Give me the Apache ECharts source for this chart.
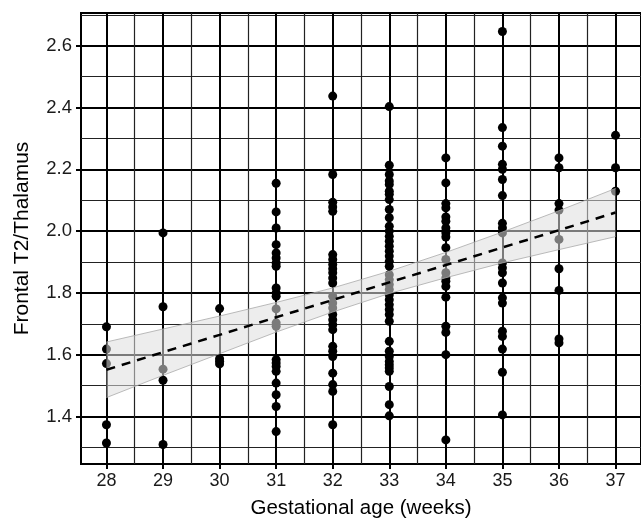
<!DOCTYPE html>
<html>
<head>
<meta charset="utf-8" />
<title>Frontal T2/Thalamus</title>
<script src="https://cdn.jsdelivr.net/npm/echarts@6/dist/echarts.min.js"></script>
<style>
	html, body { margin: 0; padding: 0; background: #fff; }
	#chart { width: 641px; height: 524px; }
</style>
</head>
<body>
<div id="chart"></div>
<script type="text/javascript">

	/******************* data ******************/
	var weeks = [28, 29, 30, 31, 32, 33, 34, 35, 36, 37];

	// ratio values per gestational week
	var w28 = [1.690, 1.618, 1.571, 1.373, 1.314];
	var w29 = [1.994, 1.755, 1.553, 1.517, 1.309];
	var w30 = [1.749, 1.587, 1.579, 1.570];
	var w31 = [2.155, 2.062, 2.010, 1.956, 1.929, 1.913, 1.897, 1.886, 1.816, 1.800, 1.789,
		1.748, 1.703, 1.692, 1.584, 1.573, 1.562, 1.546, 1.508, 1.470, 1.432, 1.351];
	var w32 = [2.437, 2.183, 2.093, 2.078, 2.064, 1.924, 1.908, 1.892, 1.878, 1.865, 1.848, 1.832,
		1.789, 1.767, 1.751, 1.730, 1.713, 1.697, 1.681, 1.627, 1.611, 1.594, 1.540, 1.503, 1.481, 1.373];
	var w33 = [2.403, 2.213, 2.183, 2.162, 2.151, 2.129, 2.119, 2.102, 2.070, 2.043, 2.016, 2.000,
		1.983, 1.967, 1.951, 1.935, 1.919, 1.902, 1.886, 1.859, 1.843, 1.827, 1.811, 1.794, 1.778,
		1.762, 1.746, 1.730, 1.708, 1.643, 1.611, 1.594, 1.578, 1.567, 1.557, 1.546, 1.497, 1.438, 1.402];
	var w34 = [2.237, 2.156, 2.089, 2.075, 2.046, 2.032, 2.010, 1.994, 1.981, 1.946, 1.908, 1.865,
		1.848, 1.838, 1.821, 1.786, 1.692, 1.672, 1.600, 1.324];
	var w35 = [2.646, 2.335, 2.275, 2.216, 2.200, 2.167, 2.115, 2.025, 2.010, 1.994, 1.897, 1.881,
		1.865, 1.832, 1.784, 1.767, 1.676, 1.659, 1.618, 1.543, 1.405];
	var w36 = [2.237, 2.205, 2.089, 2.068, 1.973, 1.878, 1.808, 1.651, 1.638];
	var w37 = [2.310, 2.205, 2.129];
	var weekValues = [w28, w29, w30, w31, w32, w33, w34, w35, w36, w37];

	// fitted line and confidence band, read at each week
	var fitLine = [1.551, 1.608, 1.664, 1.721, 1.777, 1.834, 1.890, 1.947, 2.003, 2.060];
	var ciLower = [1.461, 1.533, 1.603, 1.673, 1.738, 1.798, 1.849, 1.897, 1.940, 1.982];
	var ciUpper = [1.641, 1.683, 1.725, 1.769, 1.816, 1.870, 1.931, 1.997, 2.066, 2.138];

	// tick / grid positions
	var xMajor = [28, 29, 30, 31, 32, 33, 34, 35, 36, 37];
	var xMinor = [28.5, 29.5, 30.5, 31.5, 32.5, 33.5, 34.5, 35.5, 36.5];
	var yMajor = [1.4, 1.6, 1.8, 2.0, 2.2, 2.4, 2.6];
	var yMinor = [1.3, 1.5, 1.7, 1.9, 2.1, 2.3, 2.5, 2.7];

	/******************* build ******************/
	var points = [];
	for (let i = 0; i < weeks.length; ++i) {
		for (let j = 0; j < weekValues[i].length; ++j) {
			points.push([weeks[i], weekValues[i][j]]);
		}
	}
	var fitData = weeks.map(function (w, i) { return [w, fitLine[i]]; });
	var lowerData = weeks.map(function (w, i) { return [w, ciLower[i]]; });
	var upperData = weeks.map(function (w, i) { return [w, ciUpper[i]]; });

	var font = "'Liberation Sans', Arial, sans-serif";
	var X_MIN = 27.55, X_MAX = 37.45, Y_MIN = 1.246, Y_MAX = 2.706;

	var dom = document.getElementById('chart');
	var myChart = echarts.init(dom, null, { renderer: 'canvas' });

	var option = {
		animation: false,
		grid: {
			left: 81, top: 13, right: -3, bottom: 60,
			show: true, borderColor: '#000', borderWidth: 2, backgroundColor: 'transparent'
		},
		xAxis: [
			{
				type: 'value', min: X_MIN, max: X_MAX,
				name: 'Gestational age (weeks)', nameLocation: 'middle', nameGap: 34,
				nameTextStyle: { fontFamily: font, fontSize: 20.5, color: '#000' },
				axisLine: { show: false },
				axisTick: { show: true, length: 5, customValues: xMajor, lineStyle: { color: '#000', width: 2 } },
				axisLabel: {
					customValues: xMajor, margin: 8, fontFamily: font, fontSize: 18, color: '#1a1a1a',
					formatter: function (v) { return String(v); }
				},
				splitLine: { show: true, lineStyle: { color: '#000', width: 2 } }
			},
			{
				type: 'value', min: X_MIN, max: X_MAX, position: 'bottom',
				axisLine: { show: false },
				axisTick: { show: false, customValues: xMinor },
				axisLabel: { show: false, customValues: xMinor },
				splitLine: { show: true, lineStyle: { color: '#222', width: 1.2 } }
			}
		],
		yAxis: [
			{
				type: 'value', min: Y_MIN, max: Y_MAX,
				name: 'Frontal T2/Thalamus', nameLocation: 'middle', nameGap: 48,
				nameTextStyle: { fontFamily: font, fontSize: 21, color: '#000' },
				axisLine: { show: false },
				axisTick: { show: true, length: 5, customValues: yMajor, lineStyle: { color: '#000', width: 2 } },
				axisLabel: {
					customValues: yMajor, margin: 9, fontFamily: font, fontSize: 18.5, color: '#1a1a1a',
					formatter: function (v) { return v.toFixed(1); }
				},
				splitLine: { show: true, lineStyle: { color: '#000', width: 2 } }
			},
			{
				type: 'value', min: Y_MIN, max: Y_MAX, position: 'left',
				axisLine: { show: false },
				axisTick: { show: false, customValues: yMinor },
				axisLabel: { show: false, customValues: yMinor },
				splitLine: { show: true, lineStyle: { color: '#222', width: 1.2 } }
			}
		],
		series: [
			{
				name: 'points',
				type: 'scatter',
				symbol: 'circle',
				symbolSize: 9,
				itemStyle: { color: '#000', opacity: 1 },
				data: points,
				z: 2
			},
			{
				name: 'band',
				type: 'custom',
				z: 3,
				data: [0],
				renderItem: function (params, api) {
					var pts = [];
					for (let i = 0; i < upperData.length; ++i) pts.push(api.coord(upperData[i]));
					for (let i = lowerData.length - 1; i >= 0; --i) pts.push(api.coord(lowerData[i]));
					return {
						type: 'polygon',
						shape: { points: pts },
						style: { fill: 'rgba(222,222,222,0.55)', stroke: null }
					};
				}
			},
			{
				name: 'upper',
				type: 'line',
				symbol: 'none',
				z: 4,
				lineStyle: { color: '#aaa', width: 0.8 },
				data: upperData
			},
			{
				name: 'lower',
				type: 'line',
				symbol: 'none',
				z: 4,
				lineStyle: { color: '#aaa', width: 0.8 },
				data: lowerData
			},
			{
				name: 'fit',
				type: 'line',
				symbol: 'none',
				z: 5,
				lineStyle: { color: '#000', width: 2.5, type: [9, 7] },
				data: fitData
			}
		]
	};

	myChart.setOption(option);
</script>
</body>
</html>
